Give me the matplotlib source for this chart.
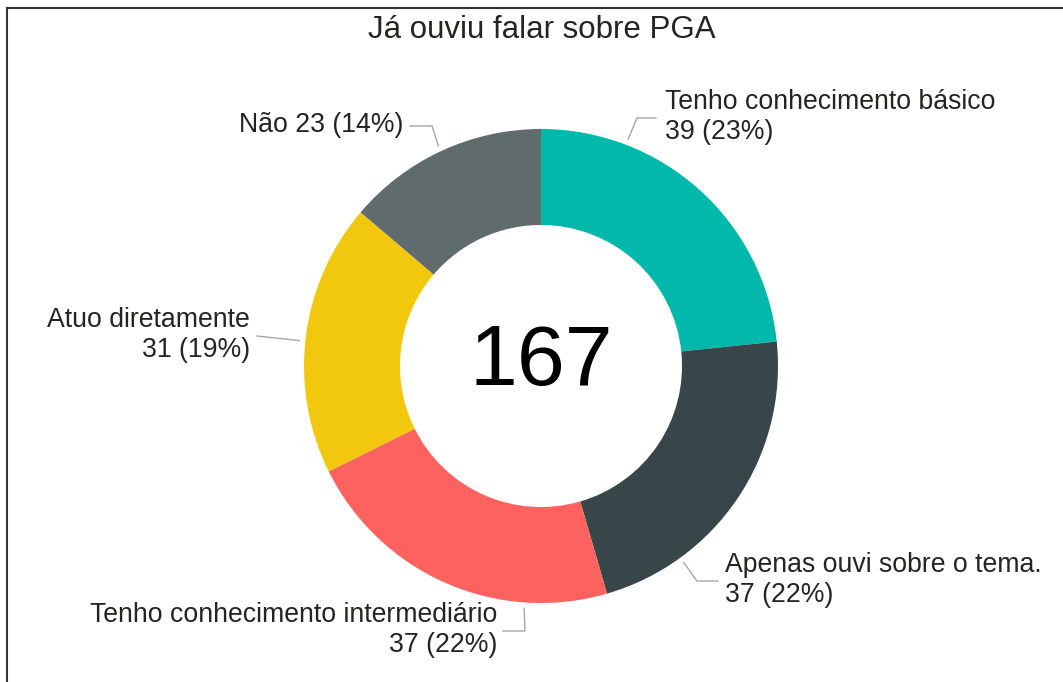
import matplotlib.pyplot as plt
import numpy as np

plt.rcParams['font.family'] = ['Liberation Sans', 'DejaVu Sans']

title = "Já ouviu falar sobre PGA"
categories = ["Tenho conhecimento básico", "Apenas ouvi sobre o tema.",
              "Tenho conhecimento intermediário", "Atuo diretamente", "Não"]
counts = [39, 37, 37, 31, 23]
colors = ['#01B8AA', '#374649', '#FD625E', '#F2C80F', '#5F6B6D']

# figure geometry (pixels)
W, H = 1063, 682
CX, CY, R = 541, 366, 237

def d(px, py):
    # pixel position -> data units (radius 1 == R pixels)
    return (px - CX) / R, (CY - py) / R

fig = plt.figure(figsize=(W / 100, H / 100), dpi=100)
ax = fig.add_axes([0, 0, 1, 1])

ax.pie(counts, colors=colors, startangle=90, counterclock=False, radius=1,
       wedgeprops=dict(width=0.405, linewidth=0), center=(0, 0), frame=True)
ax.set_xlim(-CX / R, (W - CX) / R)
ax.set_ylim(-(H - CY) / R, CY / R)
ax.set_aspect('equal')
ax.axis('off')

total = sum(counts)
ax.text(0, d(0, 363)[1], str(total), ha='center', va='center', fontsize=62, color='black')
ax.text(*d(542, 30), title, ha='center', va='center', fontsize=22.5, color='#252423')

# label layout: leader angle (deg clockwise from top), elbow px, line end px, text x px, ha
layout = [
    (21, (637, 118), (656, 118), 665, 'left'),
    (144, (697, 581), (718, 581), 725, 'left'),
    (184, (525, 631), (503, 631), 497, 'right'),
    (276, None, (257, 336), 250, 'right'),
    (335, (432, 126), (410, 126), 403, 'right'),
]

for cat, n, (ang, elbow, end, tx, ha) in zip(categories, counts, layout):
    a = np.deg2rad(ang)
    start = (1.025 * np.sin(a), 1.025 * np.cos(a))
    pts = [start] + ([d(*elbow)] if elbow else []) + [d(*end)]
    xs, ys = zip(*pts)
    ax.plot(xs, ys, color='#a6a6a6', linewidth=1)
    pct = round(100 * n / total)
    if cat == "Não":
        label = f"{cat} {n} ({pct}%)"
    else:
        label = f"{cat}\n{n} ({pct}%)"
    ty = end[1] - 1 if cat == "Não" else end[1] - 1
    ax.text(d(tx, 0)[0], d(0, ty)[1], label, ha=ha, va='center', fontsize=19.2,
            color='#252423', linespacing=1.2, multialignment=ha)

# frame lines at top and left
fig.add_artist(plt.Line2D([7 / W, 7 / W], [0, 1 - 8 / H], color='#333333', linewidth=1.5, transform=fig.transFigure))
fig.add_artist(plt.Line2D([7 / W, 1], [1 - 8 / H, 1 - 8 / H], color='#333333', linewidth=1.5, transform=fig.transFigure))

fig.savefig('out.png', dpi=100)
